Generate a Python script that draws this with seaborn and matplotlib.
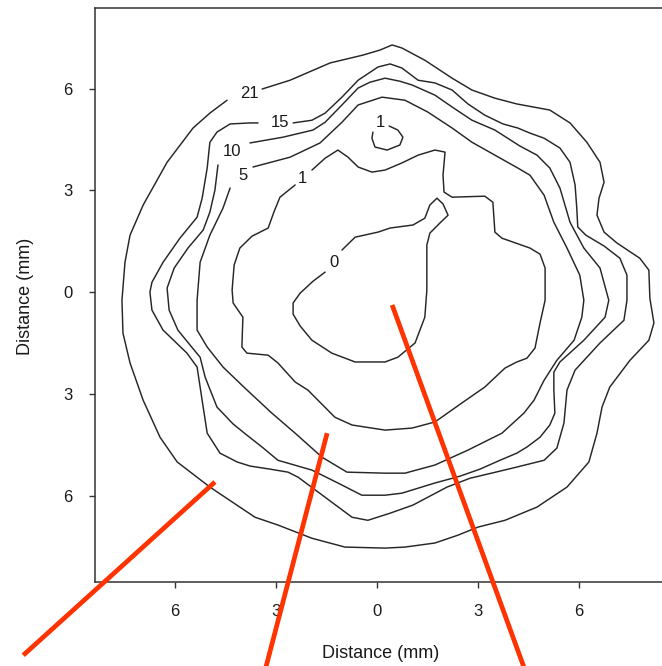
import numpy as np
import pandas as pd
import matplotlib
matplotlib.use("Agg")
import matplotlib.pyplot as plt
import seaborn as sns

# ---------------- data (mm) ----------------
c21_x = [-3.41, -2.58, -1.39, -0.42, 0.09, 0.45, 0.74, 1.42, 2.23, 2.82, 3.50, 4.15, 5.13, 5.73,
         6.23, 6.62, 6.74, 6.59, 6.53, 6.74, 7.12, 7.80, 8.07, 8.10, 8.22, 8.07, 7.51, 6.91, 6.68,
         6.53, 6.29, 5.64, 4.75, 3.80, 3.00, 2.40, 1.72, 0.83, 0.24, -0.95, -1.93, -2.94, -3.62,
         -4.96, -5.93, -6.44, -6.94, -7.33, -7.54, -7.57, -7.48, -7.33, -6.94, -6.23, -5.46, -4.96,
         -4.45]
c21_y = [5.99, 6.25, 6.76, 6.99, 7.14, 7.29, 7.20, 6.84, 6.31, 5.96, 5.72, 5.55, 5.37, 4.99,
         4.42, 3.83, 3.24, 2.77, 2.27, 1.77, 1.45, 1.00, 0.65, -0.18, -0.91, -1.42, -2.01, -2.80,
         -3.39, -4.16, -5.01, -5.75, -6.34, -6.73, -6.93, -7.17, -7.40, -7.52, -7.55, -7.52, -7.26,
         -6.87, -6.64, -5.75, -5.01, -4.28, -3.19, -2.09, -1.21, -0.24, 0.88, 1.68, 2.57, 3.83, 4.84,
         5.28, 5.66]

c15_x = [-2.49, -1.93, -1.54, -1.04, -0.56, 0.03, 0.39, 0.74, 1.22, 1.72, 2.23, 2.70, 3.20, 3.74,
         4.18, 4.54, 4.96, 5.43, 5.73, 5.88, 5.93, 5.96, 6.20, 6.74, 7.21, 7.42, 7.42, 7.33, 6.62,
         5.88, 5.64, 5.55, 5.34, 4.96, 4.15, 3.65, 2.76, 2.08, 1.07, 0.39, -0.27, -0.74, -1.54,
         -2.34, -2.64, -3.18, -3.77, -4.15, -4.66, -5.04, -5.19, -5.34, -5.64, -6.35, -6.68, -6.74,
         -6.68, -6.35, -5.85, -5.34, -5.19, -5.04, -4.96, -4.75, -4.36, -3.77, -3.53]
c15_y = [4.99, 5.07, 5.28, 5.75, 6.25, 6.64, 6.73, 6.61, 6.25, 6.17, 5.96, 5.55, 5.22, 4.96,
         4.84, 4.69, 4.54, 4.25, 3.83, 3.16, 2.48, 1.92, 1.68, 1.36, 1.00, 0.50, -0.24, -0.83,
         -1.50, -2.30, -2.89, -3.86, -4.60, -4.96, -5.16, -5.28, -5.49, -5.75, -6.28, -6.52, -6.73,
         -6.64, -6.05, -5.46, -5.31, -5.22, -5.13, -5.01, -4.75, -4.16, -3.19, -2.21, -1.80, -1.12,
         -0.53, 0.00, 0.29, 0.88, 1.59, 2.21, 2.77, 3.66, 4.42, 4.72, 4.96, 4.99, 4.99]

c10_x = [-3.77, -2.79, -1.90, -1.54, -1.04, -0.56, -0.21, 0.24, 0.68, 1.04, 1.72, 2.23, 2.82, 3.50,
         4.24, 4.75, 5.13, 5.43, 5.73, 6.14, 6.62, 6.88, 6.77, 6.14, 5.43, 5.25, 5.25, 5.28, 5.13,
         4.84, 4.45, 4.15, 3.65, 3.06, 2.46, 1.72, 0.74, 0.24, -0.45, -1.16, -1.93, -2.94, -3.41,
         -3.86, -4.27, -4.75, -5.10, -5.25, -5.55, -5.91, -6.17, -6.23, -6.02, -5.61, -5.16, -4.96,
         -4.81, -4.72]
c10_y = [4.40, 4.57, 4.78, 5.01, 5.52, 6.02, 6.19, 6.31, 6.22, 6.11, 5.81, 5.46, 5.07, 4.78,
         4.31, 4.04, 3.66, 3.07, 2.06, 1.30, 0.71, -0.24, -0.74, -1.42, -2.06, -2.36, -2.89, -3.57,
         -3.92, -4.28, -4.57, -4.75, -4.96, -5.22, -5.43, -5.63, -5.93, -5.99, -5.99, -5.63, -5.25,
         -4.96, -4.57, -4.22, -3.89, -3.39, -2.51, -1.92, -1.56, -1.12, -0.53, 0.12, 0.71, 1.30,
         1.83, 2.36, 3.01, 3.75]

c5_x = [-3.68, -2.58, -1.69, -1.04, -0.56, 0.15, 0.83, 1.51, 2.23, 2.82, 3.50, 4.18, 4.54, 4.96,
        5.25, 5.64, 6.02, 6.14, 6.08, 5.85, 5.34, 4.96, 4.66, 4.36, 3.71, 2.70, 1.72, 0.83, 0.24,
        -0.89, -1.63, -2.43, -3.12, -3.92, -4.57, -5.04, -5.34, -5.34, -5.25, -4.96, -4.57, -4.36]
c5_y = [3.69, 3.98, 4.40, 5.01, 5.52, 5.75, 5.66, 5.31, 4.84, 4.42, 4.04, 3.66, 3.45, 2.86,
        2.06, 1.30, 0.50, -0.24, -0.74, -1.42, -2.01, -2.60, -3.19, -3.57, -4.16, -4.66, -5.10,
        -5.34, -5.34, -5.31, -4.87, -4.16, -3.57, -2.83, -2.21, -1.62, -1.12, -0.24, 0.88, 1.68,
        2.48, 3.07]

c1_x = [-1.93, -1.54, -1.16, -0.86, -0.56, -0.15, 0.24, 0.74, 1.22, 1.72, 2.02, 1.96, 1.99, 2.23,
        3.20, 3.44, 3.50, 3.71, 4.54, 4.84, 4.99, 4.99, 4.84, 4.69, 4.45, 4.15, 3.80, 3.20, 2.52,
        1.72, 1.04, 0.24, -0.74, -1.25, -2.05, -2.43, -2.94, -3.23, -3.86, -4.01, -3.98, -4.27,
        -4.30, -4.24, -4.07, -3.71, -3.23, -3.06, -2.88, -2.43]
c1_y = [3.60, 3.95, 4.19, 3.98, 3.69, 3.54, 3.60, 3.81, 4.04, 4.19, 4.13, 3.45, 2.95, 2.80,
        2.83, 2.65, 1.77, 1.59, 1.30, 1.12, 0.71, -0.24, -0.91, -1.65, -1.95, -2.06, -2.24, -2.80,
        -3.27, -3.83, -4.01, -4.07, -3.92, -3.69, -2.89, -2.65, -2.09, -1.86, -1.80, -1.62, -0.74,
        -0.32, 0.06, 0.80, 1.30, 1.65, 1.89, 2.36, 2.80, 3.16]

c1b_x = [-0.12, -0.15, -0.06, 0.30, 0.68, 0.77, 0.62, 0.36]
c1b_y = [4.72, 4.54, 4.28, 4.19, 4.34, 4.57, 4.78, 4.90]

c0_x = [-1.04, -0.65, 0.03, 0.39, 1.07, 1.42, 1.57, 1.78, 1.96, 2.11, 1.87, 1.57, 1.48, 1.48,
        1.42, 1.13, 0.62, 0.24, -0.65, -1.34, -1.93, -2.28, -2.49, -2.49, -2.28, -1.90, -1.54]
c0_y = [1.24, 1.62, 1.77, 1.89, 1.98, 2.18, 2.57, 2.77, 2.60, 2.27, 2.04, 1.74, 1.39, 0.06,
        -0.74, -1.50, -1.92, -2.06, -2.06, -1.80, -1.42, -1.00, -0.65, -0.32, -0.03, 0.32, 0.59]

label_text = ["21", "15", "10", "5", "1", "1", "0"]
label_x = [-3.80, -2.88, -4.30, -3.98, -2.20, 0.09, -1.28]
label_y = [5.87, 5.01, 4.16, 3.45, 3.36, 4.99, 0.88]

# red pointer lines (start, end)
red_x = [[-10.50, -4.81], [-3.32, -1.48], [4.36, 0.45]]
red_y = [[-10.71, -5.60], [-11.15, -4.16], [-11.06, -0.38]]

tick_vals = [-6, -3, 0, 3, 6]
tick_labels = ["6", "3", "0", "3", "6"]

# ---------------- build table ----------------
contours = {"21": (c21_x, c21_y), "15": (c15_x, c15_y), "10": (c10_x, c10_y),
            "5": (c5_x, c5_y), "1": (c1_x, c1_y), "1b": (c1b_x, c1b_y), "0": (c0_x, c0_y)}
rows = []
for name, (xs, ys) in contours.items():
    for i, (xv, yv) in enumerate(zip(xs, ys)):
        rows.append({"x": xv, "y": yv, "seg": name, "order": i})
df = pd.DataFrame(rows)

red_rows = []
for k, (xs, ys) in enumerate(zip(red_x, red_y)):
    for xv, yv in zip(xs, ys):
        red_rows.append({"x": xv, "y": yv, "seg": k})
red_df = pd.DataFrame(red_rows)

# ---------------- draw ----------------
sns.set_theme(style="white")
plt.rcParams["font.family"] = ["Liberation Sans", "DejaVu Sans"]

fig = plt.figure(figsize=(6.62, 6.66), dpi=100)
ax = fig.add_axes([95 / 662, 84 / 666, 567 / 662, 574 / 666])

sns.lineplot(data=df, x="x", y="y", units="seg", estimator=None, sort=False,
             color="#262626", linewidth=1.05, ax=ax, legend=False,
             solid_joinstyle="round", solid_capstyle="round")

for lt, lx, ly in zip(label_text, label_x, label_y):
    ax.text(lx, ly, lt, ha="center", va="center", fontsize=12, color="#1a1a1a")

sns.lineplot(data=red_df, x="x", y="y", units="seg", estimator=None, sort=False,
             color="#ff3300", linewidth=3.4, ax=ax, legend=False, clip_on=False,
             solid_capstyle="butt", zorder=5)

ax.set_xlim(-8.37, 8.46)
ax.set_ylim(-8.55, 8.38)
ax.set_xticks(tick_vals)
ax.set_xticklabels(tick_labels)
ax.set_yticks(tick_vals)
ax.set_yticklabels(tick_labels)
ax.tick_params(axis="both", direction="out", length=4, width=1.0, color="#333333",
               labelsize=12, labelcolor="#1a1a1a", bottom=True, left=True)
ax.tick_params(axis="x", pad=11.5)
ax.tick_params(axis="y", pad=12)

for side in ["left", "bottom", "top"]:
    ax.spines[side].set_visible(True)
    ax.spines[side].set_color("#333333")
    ax.spines[side].set_linewidth(1.1)
ax.spines["right"].set_visible(False)

ax.set_xlabel("Distance (mm)", fontsize=13, color="#1a1a1a")
ax.set_ylabel("Distance (mm)", fontsize=13, color="#1a1a1a")
ax.xaxis.label.set_va("center")
ax.yaxis.label.set_va("center")
ax.xaxis.set_label_coords((381 - 95) / 567, (582 - 653) / 574)
ax.yaxis.set_label_coords((26 - 95) / 567, (582 - 296) / 574)

fig.savefig("out.png", dpi=100)
